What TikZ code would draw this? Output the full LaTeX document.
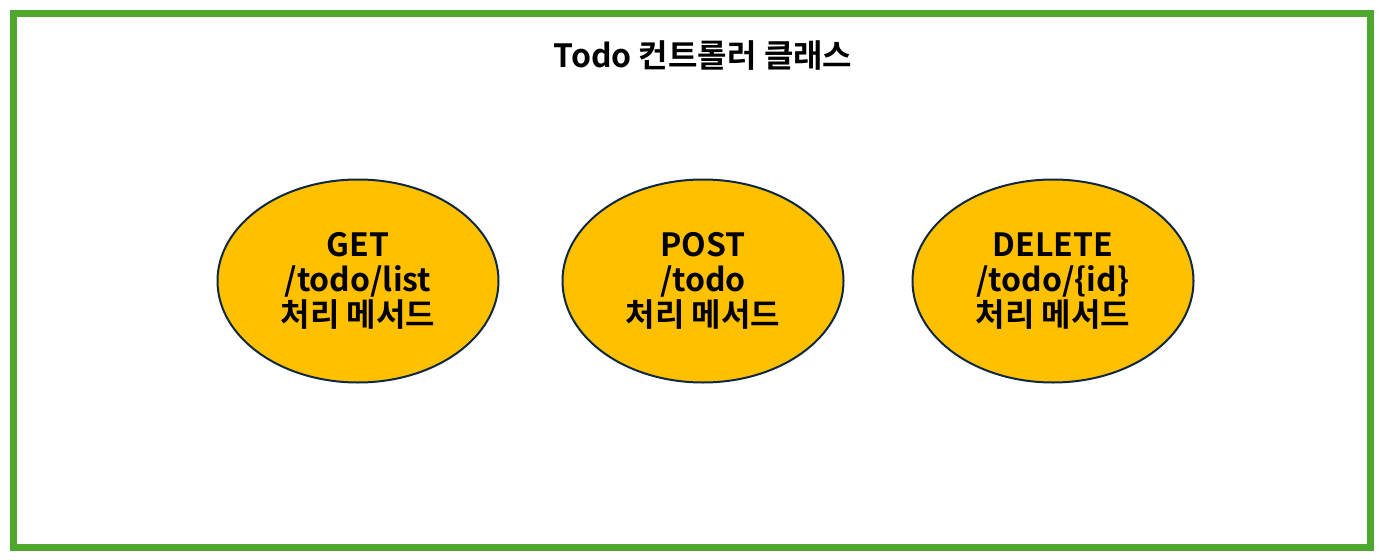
\documentclass[tikz,border=0pt]{standalone}
\usepackage{fontspec}
\setmainfont{Noto Sans CJK KR}[BoldFont={Noto Sans CJK KR Bold}]
\usetikzlibrary{shapes.geometric}
\definecolor{frameGreen}{HTML}{4EA72E}
\definecolor{ellFill}{HTML}{FFC000}
\definecolor{ellLine}{HTML}{0E2841}
\tikzset{
  method/.style={ellipse, draw=ellLine, line width=1.5pt, fill=ellFill,
    minimum width=210.75pt, minimum height=152.25pt, inner sep=0pt,
    align=center, font=\fontsize{24}{26.5}\selectfont\bfseries},
  titletext/.style={font=\fontsize{24}{28}\selectfont\bfseries}
}
\begin{document}
\begin{tikzpicture}[x=0.75pt,y=-0.75pt]
\useasboundingbox (0,0) rectangle (1384,560);
\draw[frameGreen, line width=5.25pt] (13.5,13.5) rectangle (1370.5,547.5);
\node[titletext] (title) at (703,56) {Todo 컨트롤러 클래스};
\node[method] (get) at (358,281) {GET\\/todo/list\\처리 메서드};
\node[method] (post) at (703,281) {POST\\/todo\\처리 메서드};
\node[method] (del) at (1053,281) {DELETE\\/todo/\{id\}\\처리 메서드};
\end{tikzpicture}
\end{document}
